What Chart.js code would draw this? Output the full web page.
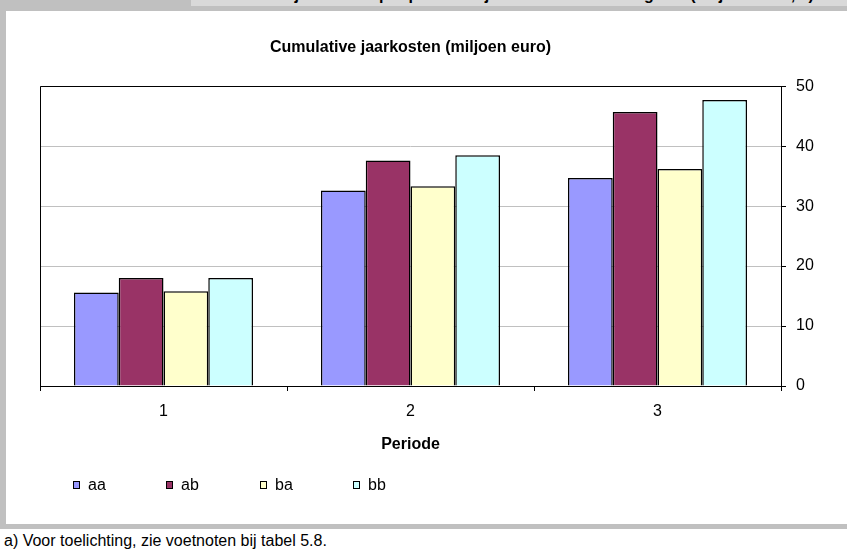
<!DOCTYPE html>
<html>
<head>
<meta charset="utf-8">
<script src="https://cdn.jsdelivr.net/npm/chart.js@4/dist/chart.umd.min.js"></script>
<style>
  html, body { margin: 0; padding: 0; background: #fff; }
  body { width: 847px; height: 550px; position: relative; overflow: hidden;
         font-family: "Liberation Sans", Arial, sans-serif; }
  .band { position: absolute; background: #c0c0c0; }
  #head { position: absolute; left: 191px; top: 0; width: 656px; height: 6px;
          background: #d9d9d9; overflow: hidden; }
  #head span { position: absolute; left: 4px; top: -14px; font-weight: bold; font-size: 16px;
               line-height: 18px; white-space: nowrap; color: #000; }
  #wrap { position: absolute; left: 6px; top: 11px; width: 841px; height: 513px; }
  #note { position: absolute; left: 4px; top: 532px; font-size: 16px; line-height: 18px;
          color: #000; white-space: nowrap; }
</style>
</head>
<body>
<div class="band" style="left:0;top:0;width:847px;height:11px;"></div>
<div id="head"><span>Cumulatieve jaarkosten per periode bij verschillende strategieën (miljoen euro, a)</span></div>
<div class="band" style="left:0;top:0;width:6px;height:529px;"></div>
<div class="band" style="left:0;top:524px;width:847px;height:5px;"></div>
<div id="wrap"><canvas id="c" width="841" height="513"></canvas></div>
<div id="note">a) Voor toelichting, zie voetnoten bij tabel 5.8.</div>
<script>
const FONT = '"Liberation Sans", Arial, sans-serif';

// Periods on the category axis
const periods = ['1', '2', '3'];

// Cumulative annual costs per case (million euro)
const aa = [15.6, 32.6, 34.7];
const ab = [18.0, 37.6, 45.7];
const ba = [15.8, 33.3, 36.2];
const bb = [18.0, 38.5, 47.7];

const seriesNames = ['aa', 'ab', 'ba', 'bb'];
const seriesColors = ['#9999ff', '#993366', '#ffffcc', '#ccffff'];

// Value axis ticks
const yTicks = [0, 10, 20, 30, 40, 50];

// Black frame around the plot area
const frame = {
  id: 'frame',
  afterDatasetsDraw(chart) {
    const { ctx, chartArea: a } = chart;
    ctx.save();
    ctx.strokeStyle = '#000';
    ctx.lineWidth = 1;
    ctx.beginPath();
    ctx.moveTo(Math.round(a.left) + 0.5, Math.round(a.bottom) + 0.5);
    ctx.lineTo(Math.round(a.left) + 0.5, Math.round(a.top) + 0.5);
    ctx.lineTo(Math.round(a.right) + 0.5, Math.round(a.top) + 0.5);
    ctx.stroke();
    ctx.restore();
  }
};

// Legend row under the axis title, evenly spaced items
const legendRow = {
  id: 'legendRow',
  afterDraw(chart) {
    const { ctx } = chart;
    const x0 = 67, step = 93.3, y = 474;
    ctx.save();
    ctx.font = '16px ' + FONT;
    ctx.textBaseline = 'middle';
    ctx.textAlign = 'left';
    chart.data.datasets.forEach((ds, i) => {
      const x = Math.round(x0 + i * step);
      ctx.fillStyle = ds.backgroundColor;
      ctx.fillRect(x + 0.5, y - 4 + 0.5, 6, 7);
      ctx.strokeStyle = '#000';
      ctx.lineWidth = 1;
      ctx.strokeRect(x + 0.5, y - 4 + 0.5, 6, 7);
      ctx.fillStyle = '#000';
      ctx.fillText(ds.label, x + 15, y + 1);
    });
    ctx.restore();
  }
};

const series = [aa, ab, ba, bb];

new Chart(document.getElementById('c'), {
  type: 'bar',
  data: {
    labels: periods,
    datasets: series.map((vals, i) => ({
      label: seriesNames[i],
      data: vals,
      backgroundColor: seriesColors[i],
      borderColor: '#000',
      borderWidth: 1.5,
      borderSkipped: 'bottom',
      categoryPercentage: 0.725,
      barPercentage: 1.0
    }))
  },
  options: {
    responsive: false,
    animation: false,
    layout: { padding: { left: 34, right: 0, top: 0, bottom: 70 } },
    plugins: {
      legend: { display: false },
      tooltip: { enabled: false },
      title: {
        display: true,
        text: 'Cumulative jaarkosten (miljoen euro)',
        color: '#000',
        fullSize: false,
        font: { family: FONT, size: 16, weight: 'bold' },
        padding: { top: 27, bottom: 29 }
      }
    },
    scales: {
      x: {
        grid: { display: true, drawOnChartArea: false, offset: true, tickLength: 5, tickColor: '#000' },
        border: { display: true, color: '#000', width: 1 },
        ticks: { color: '#000', font: { family: FONT, size: 16 }, padding: 11 },
        title: {
          display: true,
          text: 'Periode',
          color: '#000',
          font: { family: FONT, size: 16, weight: 'bold' },
          padding: { top: 6, bottom: 0 }
        },
        afterFit(scale) { scale.height = 68; }
      },
      y: {
        position: 'right',
        min: 0,
        max: 50,
        afterBuildTicks(scale) { scale.ticks = yTicks.map(v => ({ value: v })); },
        grid: { color: '#c0c0c0', tickLength: 5, tickColor: '#000' },
        border: { display: true, color: '#000', width: 1 },
        ticks: { color: '#000', font: { family: FONT, size: 16 }, padding: 10 },
        afterFit(scale) { scale.width = 66; }
      }
    }
  },
  plugins: [frame, legendRow]
});
</script>
</body>
</html>
